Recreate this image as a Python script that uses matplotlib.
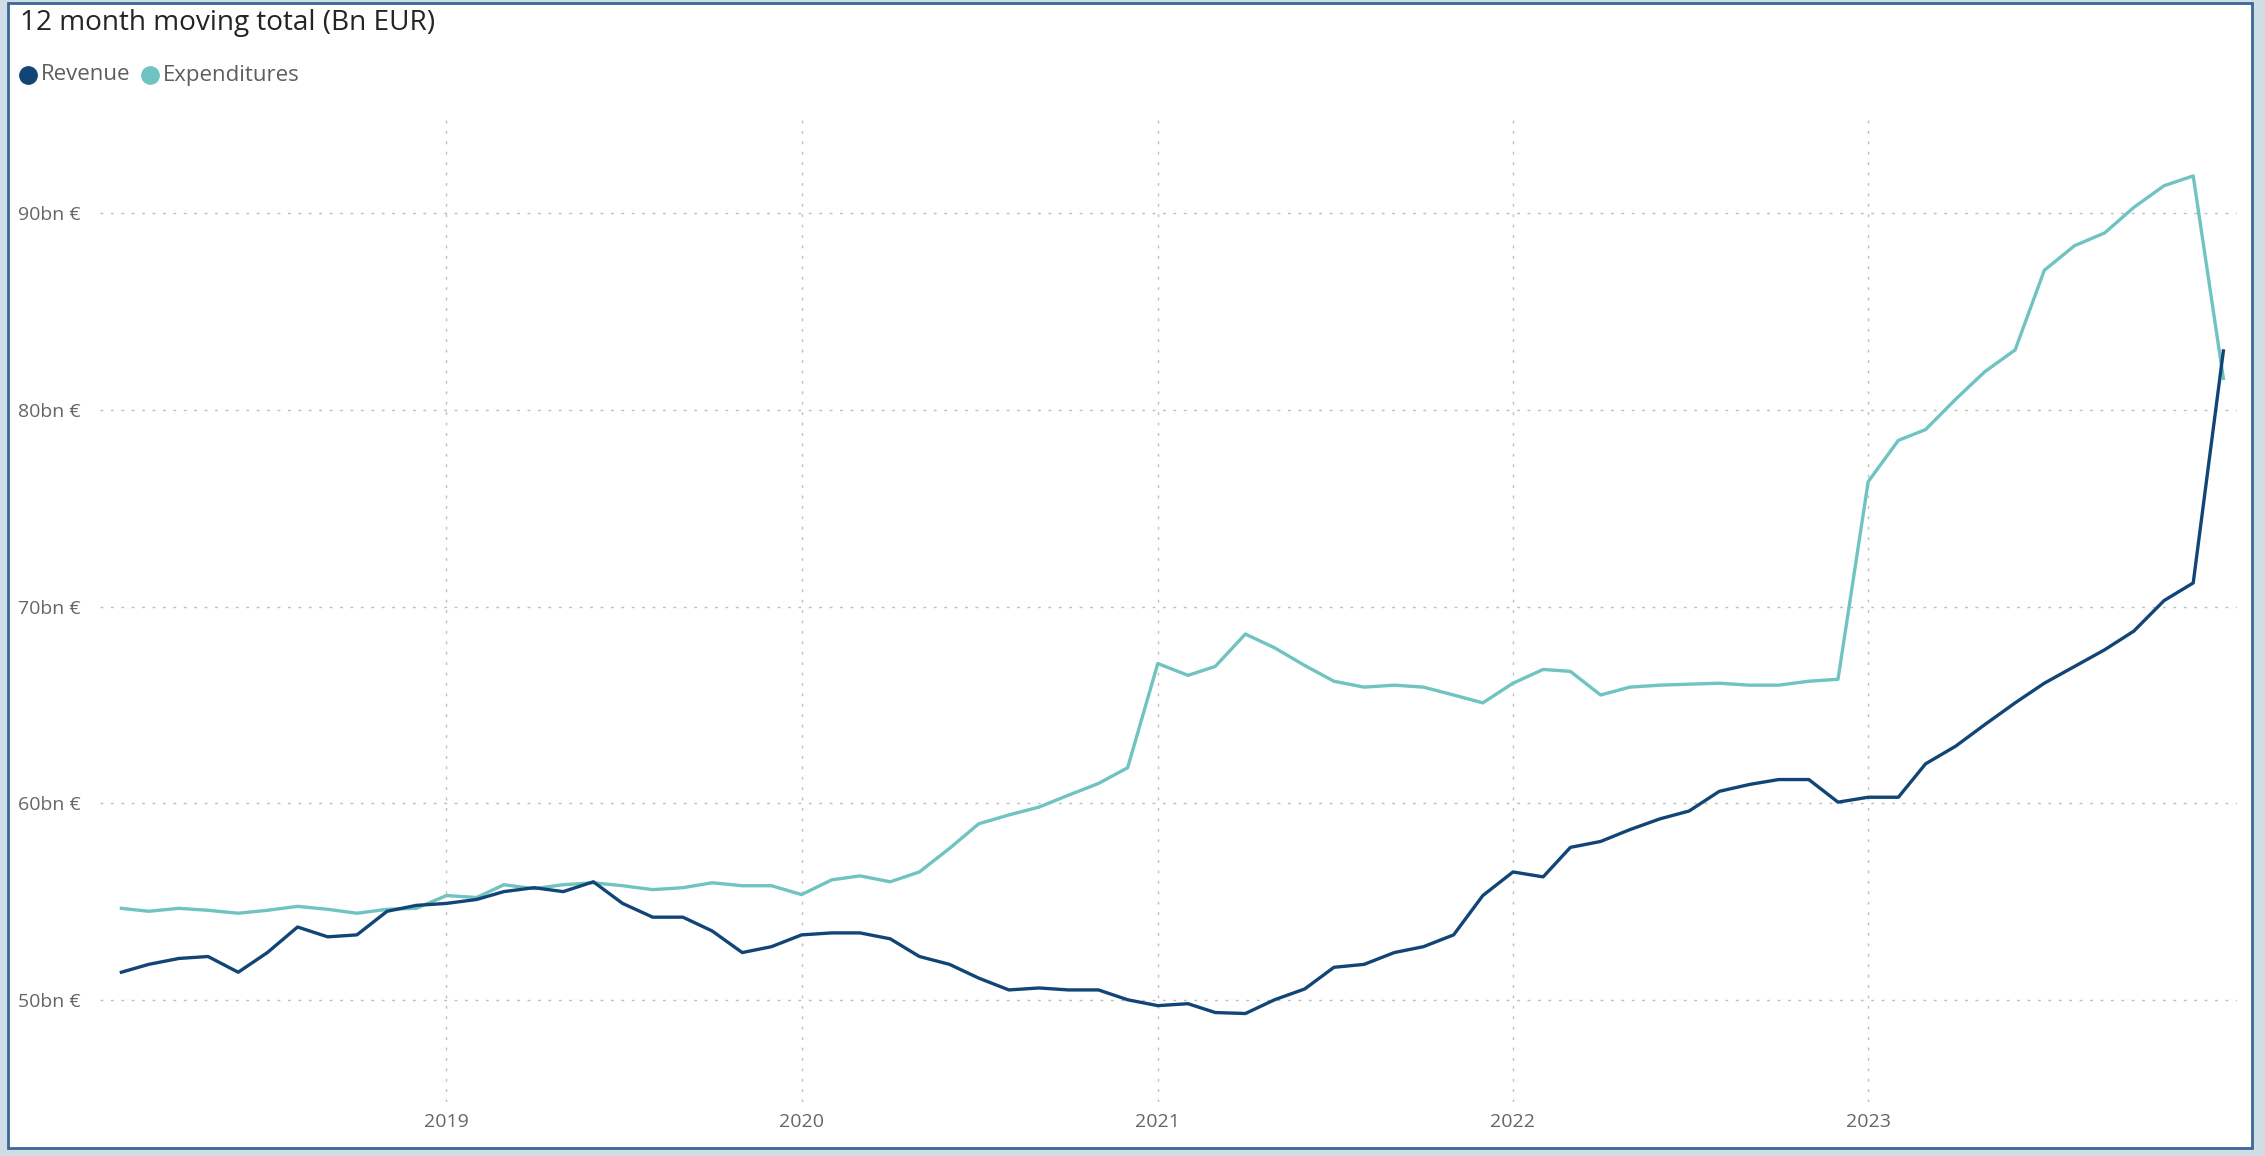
import numpy as np
import pandas as pd
import matplotlib
matplotlib.use("Agg")
import matplotlib.pyplot as plt
from matplotlib.lines import Line2D
from matplotlib.patches import Rectangle

plt.rcParams["font.family"] = ["Open Sans", "DejaVu Sans"]

# monthly points, Feb 2018 .. Jan 2024
months = pd.date_range("2018-02-01", "2024-01-01", freq="MS")

revenue = [
    51.4, 51.8, 52.1, 52.2, 51.4, 52.4, 53.7, 53.2, 53.3, 54.5, 54.8,          # 2018
    54.9, 55.1, 55.5, 55.7, 55.5, 56.0, 54.9, 54.2, 54.2, 53.5, 52.4, 52.7,    # 2019
    53.3, 53.4, 53.4, 53.1, 52.2, 51.8, 51.1, 50.5, 50.6, 50.5, 50.5, 50.0,    # 2020
    49.7, 49.8, 49.35, 49.3, 50.0, 50.55, 51.65, 51.8, 52.4, 52.7, 53.3, 55.3, # 2021
    56.5, 56.25, 57.75, 58.05, 58.65, 59.2, 59.6, 60.6, 60.95, 61.2, 61.2, 60.05,  # 2022
    60.3, 60.3, 62.0, 62.9, 64.0, 65.1, 66.1, 66.95, 67.8, 68.75, 70.3, 71.2,  # 2023
    83.0,                                                                      # 2024
]
expenditures = [
    54.65, 54.5, 54.65, 54.55, 54.4, 54.55, 54.75, 54.6, 54.4, 54.6, 54.65,
    55.3, 55.2, 55.85, 55.65, 55.85, 55.95, 55.8, 55.6, 55.7, 55.95, 55.8, 55.8,
    55.35, 56.1, 56.3, 56.0, 56.5, 57.7, 58.95, 59.4, 59.8, 60.4, 61.0, 61.8,
    67.1, 66.5, 66.95, 68.6, 67.9, 67.0, 66.2, 65.9, 66.0, 65.9, 65.5, 65.1,
    66.1, 66.8, 66.7, 65.5, 65.9, 66.0, 66.05, 66.1, 66.0, 66.0, 66.2, 66.3,
    76.35, 78.45, 79.0, 80.55, 81.95, 83.05, 87.1, 88.35, 89.0, 90.3, 91.4, 91.9,
    81.6,
]

series_names = ["Revenue", "Expenditures"]
COLORS = ["#114576", "#6fc3c0"]
y_ticks = [50, 60, 70, 80, 90]
year_ticks = [2019, 2020, 2021, 2022, 2023]

W, H = 2265, 1156
fig = plt.figure(figsize=(W / 100, H / 100), dpi=100, facecolor="#d0dce6")

# white card with blue border
fig.patches.append(Rectangle((8 / W, 8 / H), 2244 / W, 1145 / H, transform=fig.transFigure,
                             facecolor="white", edgecolor="#3a6796", linewidth=2.0, zorder=-10))

ax = fig.add_axes([100 / W, 1 - 1102 / H, 2137 / W, 989 / H])
ax.set_facecolor("none")

ax.plot(months, revenue, color=COLORS[0], linewidth=2.4, zorder=3)
ax.plot(months, expenditures, color=COLORS[1], linewidth=2.4, zorder=2)

ax.set_ylim(44.8, 95.1)
ax.set_xlim(pd.Timestamp("2018-01-10"), pd.Timestamp("2024-01-15"))

ax.set_yticks(y_ticks)
ax.set_yticklabels([f"{v}bn €" for v in y_ticks])
ax.set_xticks([pd.Timestamp(f"{y}-01-01") for y in year_ticks])
ax.set_xticklabels([str(y) for y in year_ticks])

ax.tick_params(axis="both", length=0, labelsize=14, labelcolor="#666666")
ax.tick_params(axis="y", pad=14)
ax.tick_params(axis="x", pad=8)

ax.grid(True, color="#bdbdbd", linewidth=1.0, linestyle=(0, (2, 5.5)))
ax.set_axisbelow(True)
for s in ax.spines.values():
    s.set_visible(False)

# title + legend
fig.text(20 / W, 1 - 23 / H, "12 month moving total (Bn EUR)", fontsize=20.2,
         color="#252423", va="center", ha="left")
leg_y = 1 - 75 / H
for name, c, mx, tx in zip(series_names, COLORS, [28, 150], [41, 163]):
    fig.add_artist(Line2D([mx / W], [leg_y], transform=fig.transFigure, marker="o",
                          markersize=12.5, color=c, linestyle="none"))
    fig.text(tx / W, leg_y, name, fontsize=16, color="#605e5c", va="center", ha="left")

fig.savefig("out.png", dpi=100, facecolor=fig.get_facecolor())
